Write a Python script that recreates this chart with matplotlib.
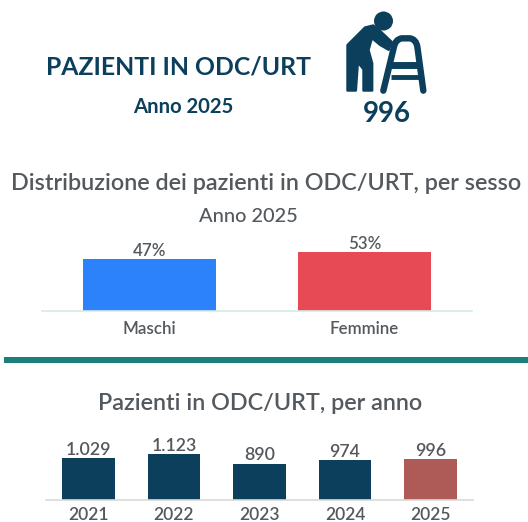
import matplotlib
matplotlib.use("Agg")
import matplotlib.pyplot as plt
from matplotlib.patches import Circle, Polygon, PathPatch, Rectangle
from matplotlib.path import Path

plt.rcParams['font.family'] = ['Lato', 'DejaVu Sans']

W, H = 528, 522

sessi = ["Maschi", "Femmine"]
perc_sesso = [47, 53]
colori_sesso = ["#2b82fb", "#e84a55"]

anni = ["2021", "2022", "2023", "2024", "2025"]
pazienti = [1029, 1123, 890, 974, 996]
etichette_anni = ["1.029", "1.123", "890", "974", "996"]
colori_anni = ["#0b3f5c", "#0b3f5c", "#0b3f5c", "#0b3f5c", "#ae5a57"]

BLU = "#0b3f5c"
GRIGIO = "#54595e"


def box(x0, x1, y_top, y_bottom):
    return [x0 / W, 1 - y_bottom / H, (x1 - x0) / W, (y_bottom - y_top) / H]


fig = plt.figure(figsize=(W / 100, H / 100), dpi=100)

# livello di sfondo in pixel, per testi e icona
bg = fig.add_axes([0, 0, 1, 1])
bg.set_xlim(0, W)
bg.set_ylim(H, 0)
bg.axis("off")

bg.text(179, 67, "PAZIENTI IN ODC/URT", ha="center", va="center", fontsize=17.8, fontweight="bold", color=BLU)
bg.text(183, 107, "Anno 2025", ha="center", va="center", fontsize=14.6, fontweight="bold", color=BLU)
bg.text(387, 114, "996", ha="center", va="center", fontsize=20, fontweight="bold", color=BLU)
bg.text(266, 184, "Distribuzione dei pazienti in ODC/URT, per sesso", ha="center", va="center",
        fontsize=16.8, fontweight="semibold", color=GRIGIO)
bg.text(248, 217, "Anno 2025", ha="center", va="center", fontsize=14.4, fontweight="medium", color=GRIGIO)
bg.text(260, 403, "Pazienti in ODC/URT, per anno", ha="center", va="center",
        fontsize=16.8, fontweight="semibold", color=GRIGIO)
bg.add_patch(Rectangle((4, 357), 524, 5.5, color="#1b7f7c", lw=0))


# icona (coordinate del disegno, 3x)
def ic(p):
    return [(330 + x / 3, y / 3) for x, y in p]


bg.add_patch(Circle((383.5, 21), 9.5, color=BLU, lw=0))
corpo = [(52, 135), (105, 82), (130, 76), (150, 92), (186, 126), (176, 150), (150, 135), (126, 115),
         (116, 150), (127, 190), (127, 272), (100, 272), (100, 208), (84, 188), (78, 272), (52, 272)]
bg.add_patch(Polygon(ic(corpo), closed=True, facecolor=BLU, edgecolor=BLU, lw=1.5, joinstyle="round"))
telaio = ic([(160, 272), (192, 140), (197, 118), (215, 115), (240, 115), (258, 118), (262, 140), (280, 272)])
codici = [Path.MOVETO, Path.LINETO, Path.CURVE3, Path.CURVE3, Path.LINETO, Path.CURVE3, Path.CURVE3, Path.LINETO]
bg.add_patch(PathPatch(Path(telaio, codici), facecolor="none", edgecolor=BLU, lw=4.6, capstyle="round"))
for y, lw in [(195, 5), (232, 3.5)]:
    x0, y0 = ic([(182, y)])[0]
    x1, y1 = ic([(268, y)])[0]
    bg.plot([x0, x1], [y0, y1], color=BLU, lw=lw, solid_capstyle="butt")

# barre per sesso
ax1 = fig.add_axes(box(42, 472, 232, 311))
ax1.bar(range(2), perc_sesso, width=0.614, color=colori_sesso)
ax1.set_xlim(-0.5, 1.5)
ax1.set_ylim(0, 79 / 1.106)
ax1.set_xticks(range(2), sessi)
ax1.set_yticks([])
ax1.tick_params(axis="x", length=0, pad=7, labelsize=12.2, labelcolor=GRIGIO)
for lab in ax1.get_xticklabels():
    lab.set_fontweight("semibold")
for s in ["top", "left", "right"]:
    ax1.spines[s].set_visible(False)
ax1.spines["bottom"].set_color("#d3ece6")
ax1.spines["bottom"].set_linewidth(1.2)
for i, v in enumerate(perc_sesso):
    ax1.text(i, v + 0.2, f"{v}%", ha="center", va="bottom", fontsize=12.2, fontweight="semibold", color=GRIGIO)

# barre per anno
ax2 = fig.add_axes(box(46, 473, 430, 500))
ax2.bar(range(5), pazienti, width=0.614, color=colori_anni)
ax2.set_xlim(-0.497, 4.497)
ax2.set_ylim(0, 70 / 0.0408)
ax2.set_xticks(range(5), anni)
ax2.set_yticks([])
ax2.tick_params(axis="x", length=0, pad=5, labelsize=12.5, labelcolor=GRIGIO)
for lab in ax2.get_xticklabels():
    lab.set_fontweight("semibold")
for s in ["top", "left", "right"]:
    ax2.spines[s].set_visible(False)
ax2.spines["bottom"].set_color("#d9d9d9")
ax2.spines["bottom"].set_linewidth(1.2)
for i, v in enumerate(pazienti):
    ax2.text(i, v + 5, etichette_anni[i], ha="center", va="bottom", fontsize=12.8, fontweight="semibold", color=GRIGIO)

fig.savefig("out.png", dpi=100)
